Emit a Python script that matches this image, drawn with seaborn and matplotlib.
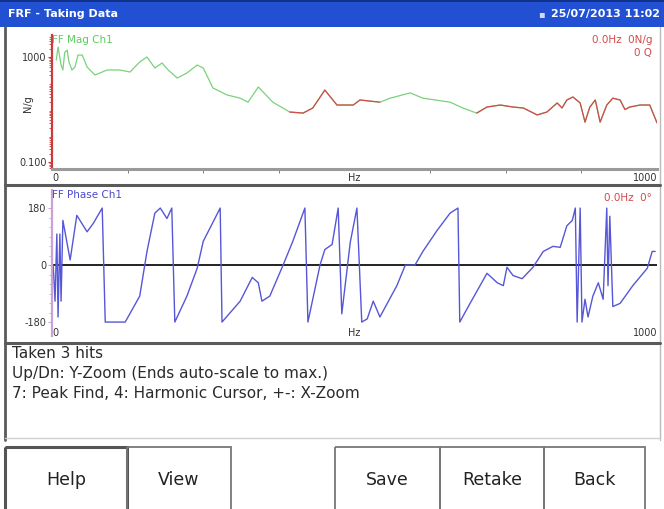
import matplotlib
matplotlib.use("Agg")
import matplotlib.pyplot as plt
from matplotlib.patches import Rectangle
from matplotlib.ticker import FixedLocator, NullFormatter
import pandas as pd
import seaborn as sns

# ---------------- data ----------------
title_left = "FRF - Taking Data"
title_right = "25/07/2013 11:02"
mag_title = "FF Mag Ch1"
phase_title = "FF Phase Ch1"
mag_cursor_1 = "0.0Hz  0N/g"
mag_cursor_2 = "0 Q"
phase_cursor = "0.0Hz  0°"
mag_unit = "N/g"
info_lines = ["Taken 3 hits",
              "Up/Dn: Y-Zoom (Ends auto-scale to max.)",
              "7: Peak Find, 4: Harmonic Cursor, +-: X-Zoom"]
button_labels = ["Help", "View", "", "Save", "Retake", "Back"]

mag_hz = [7, 10, 15, 18, 21, 25, 28, 33, 38, 43, 50, 58, 71, 91, 112, 129, 145, 157,
          170, 182, 192, 207, 223, 240, 250, 266, 289, 311, 324, 341, 365, 393, 415,
          431, 451, 471, 498, 509, 542, 559, 592, 613, 658, 679, 702, 719, 741, 762,
          779, 802, 818, 835, 843, 851, 861, 873, 881, 889, 898, 906, 917, 927, 939,
          947, 955, 972, 988, 1000]
mag_val = [769, 2400, 495, 320, 1500, 1850, 645, 320, 416, 1190, 1190, 416, 206, 320,
           320, 268, 645, 1000, 381, 590, 320, 158, 246, 495, 381, 66, 36, 27, 19, 72,
           19, 8.0, 7.3, 11.4, 55, 14.8, 14.8, 23, 19, 27, 43, 27, 19, 11.4, 7.3, 12.4,
           14.8, 12.4, 11.4, 6.2, 8.0, 17.7, 11.4, 23, 30, 17.7, 3.3, 12.4, 23, 3.3,
           14.8, 27, 23, 10, 12.4, 14.8, 14.8, 3.1]
mag_red_bands = [(393, 542), (702, 1000)]

phase_hz = [2, 5, 8, 10, 13, 15, 18, 30, 41, 58, 68, 83, 88, 121, 145, 157, 170, 179,
            190, 198, 203, 223, 240, 250, 278, 281, 311, 331, 341, 347, 360, 382, 398,
            418, 423, 443, 451, 463, 473, 479, 493, 504, 512, 521, 531, 542, 570, 584,
            600, 613, 636, 658, 671, 674, 691, 719, 736, 746, 752, 762, 777, 795, 812,
            828, 840, 851, 860, 865, 868, 873, 876, 881, 886, 894, 903, 911, 917, 919,
            922, 927, 939, 960, 984, 992, 997]
phase_deg = [0, -114, 98, -164, 98, -114, 141, 16, 157, 105, 131, 180, -180, -180, -98,
             43, 164, 180, 147, 180, -180, -98, -10, 75, 180, -180, -114, -39, -56, -114,
             -98, 0, 75, 180, -180, 0, 49, 65, 180, -154, 72, 180, -180, -170, -114,
             -164, -65, 0, 0, 43, 108, 164, 180, -180, -121, -26, -56, -65, -7, -33, -43,
             -7, 43, 59, 56, 124, 141, 180, -180, 180, -180, -108, -164, -98, -56, -108,
             180, -65, 154, -131, -121, -65, -10, 43, 43]

mag_ticks = [0.1, 1000]
mag_tick_labels = ["0.100", "1000"]
phase_ticks = [-180, 0, 180]
phase_tick_labels = ["-180", "0", "180"]
x_ticks = [0, 500, 1000]
x_tick_labels = ["0", "Hz", "1000"]
x_minor = [125, 250, 375, 625, 750, 875]

# ---------------- figure ----------------
sns.set_style("white")
plt.rcParams["font.family"] = ["DejaVu Sans"]

W, H = 664, 509
fig = plt.figure(figsize=(W / 100, H / 100), dpi=100)
fig.patch.set_facecolor("white")

bg = fig.add_axes([0, 0, 1, 1], zorder=0)
bg.set_xlim(0, W)
bg.set_ylim(H, 0)
bg.axis("off")

# title bar
bg.add_patch(Rectangle((0, 0), W, 27, color="#2150d2", lw=0))
bg.add_patch(Rectangle((0, 0), W, 2, color="#10308a", lw=0))
bg.text(8, 14, title_left, color="white", fontsize=8, fontweight="bold", va="center")
bg.text(660, 14, title_right, color="white", fontsize=8, fontweight="bold",
        va="center", ha="right")
bg.text(538, 14, "▪", color="#d8d8ff", fontsize=7, va="center", ha="left")

# screen frame and separators
frame_c = "#5a5a5a"
bg.plot([5, 5], [27, 440], color=frame_c, lw=2)
bg.plot([660, 660], [27, 440], color="#bbbbbb", lw=1)
bg.plot([5, 660], [185, 185], color=frame_c, lw=2.2)
bg.plot([5, 660], [343, 343], color=frame_c, lw=2.2)
bg.plot([5, 660], [438, 438], color="#d0d0d0", lw=1)

# info text
for i, line in enumerate(info_lines):
    bg.text(12, 354 + i * 19.5, line, fontsize=11, color="#2a2a2a", va="center")

# magnitude unit label
bg.text(28, 104, mag_unit, fontsize=7, color="#333333", rotation=90,
        ha="center", va="center")

# buttons
btn_edges = [5, 127, 231, 335, 440, 544, 645]
for i, lab in enumerate(button_labels):
    x0, x1 = btn_edges[i], btn_edges[i + 1]
    if lab:
        lw = 2.2 if lab == "Help" else 1.3
        ec = "#555555" if lab == "Help" else "#777777"
        bg.add_patch(Rectangle((x0, 447), x1 - x0, 70, fill=False, ec=ec, lw=lw))
        bg.text((x0 + x1) / 2, 480, lab, fontsize=12.5, color="#222222",
                ha="center", va="center")

# ---------------- magnitude axes ----------------
mag_df = pd.DataFrame({"Hz": mag_hz, "mag": mag_val})
ax1 = fig.add_axes([52 / W, 1 - 169 / H, 605 / W, 134 / H], zorder=2)
ax1.set_facecolor("none")
sns.lineplot(data=mag_df, x="Hz", y="mag", ax=ax1, color="#7ad27a", lw=0.9,
             estimator=None)
for lo, hi in mag_red_bands:
    sub = mag_df[(mag_df["Hz"] >= lo) & (mag_df["Hz"] <= hi)]
    sns.lineplot(data=sub, x="Hz", y="mag", ax=ax1, color="#d24a4a", lw=0.9,
                 estimator=None)
ax1.set_yscale("log")
ax1.set_ylim(0.054, 6890)
ax1.set_xlim(0, 1000)
ax1.set_yticks(mag_ticks)
ax1.set_yticklabels(mag_tick_labels)
ax1.yaxis.set_minor_formatter(NullFormatter())
ax1.set_xticks(x_ticks)
ax1.set_xticklabels(x_tick_labels)
ax1.xaxis.set_minor_locator(FixedLocator(x_minor))
for lab in ax1.get_xticklabels():
    if lab.get_text() == "1000":
        lab.set_ha("right")
    elif lab.get_text() == "0":
        lab.set_ha("left")
ax1.set_xlabel("")
ax1.set_ylabel("")
for s in ["top", "right"]:
    ax1.spines[s].set_visible(False)
ax1.spines["left"].set_color("#cc3b3b")
ax1.spines["left"].set_linewidth(1.6)
ax1.spines["bottom"].set_color("#9a9a9a")
ax1.spines["bottom"].set_linewidth(2.2)
ax1.tick_params(axis="y", which="major", length=3, color="#cc3b3b", labelsize=7,
                labelcolor="#333333", pad=1, left=True)
ax1.tick_params(axis="y", which="minor", length=2, color="#cc3b3b", left=True)
ax1.tick_params(axis="x", which="major", length=0, labelsize=7, labelcolor="#333333",
                pad=3)
ax1.tick_params(axis="x", which="minor", length=3, color="#666666", bottom=True)
ax1.text(0.0, 1.0, mag_title, transform=ax1.transAxes, color="#5ccc5c", fontsize=7.5,
         ha="left", va="top")
ax1.text(0.992, 1.0, mag_cursor_1, transform=ax1.transAxes, color="#d24a4a",
         fontsize=7.5, ha="right", va="top")
ax1.text(0.992, 0.90, mag_cursor_2, transform=ax1.transAxes, color="#d24a4a",
         fontsize=7.5, ha="right", va="top")

# ---------------- phase axes ----------------
ph_df = pd.DataFrame({"Hz": phase_hz, "deg": phase_deg})
ax2 = fig.add_axes([52 / W, 1 - 336 / H, 605 / W, 146 / H], zorder=2)
ax2.set_facecolor("none")
ax2.axhline(0, color="#222222", lw=1.4, zorder=1)
sns.lineplot(data=ph_df, x="Hz", y="deg", ax=ax2, color="#5656d8", lw=1.0,
             estimator=None, zorder=2)
ax2.set_xlim(0, 1000)
ax2.set_ylim(-224, 237)
ax2.set_yticks(phase_ticks)
ax2.set_yticklabels(phase_tick_labels)
ax2.set_xticks(x_ticks)
ax2.set_xticklabels(x_tick_labels)
for lab in ax2.get_xticklabels():
    if lab.get_text() == "1000":
        lab.set_ha("right")
    elif lab.get_text() == "0":
        lab.set_ha("left")
ax2.set_xlabel("")
ax2.set_ylabel("")
for s in ["top", "right", "bottom"]:
    ax2.spines[s].set_visible(False)
ax2.spines["left"].set_color("#c9a2d8")
ax2.spines["left"].set_linewidth(1.6)
ax2.yaxis.set_minor_locator(FixedLocator([-150, -120, -90, -60, -30, 30, 60, 90, 120, 150]))
ax2.tick_params(axis="y", which="major", length=3, color="#c9a2d8", labelsize=7,
                labelcolor="#333333", pad=1, left=True)
ax2.tick_params(axis="y", which="minor", length=2, color="#c9a2d8", left=True)
ax2.tick_params(axis="x", which="major", length=0, labelsize=7, labelcolor="#333333",
                pad=-6)
ax2.text(0.0, 1.0, phase_title, transform=ax2.transAxes, color="#4a4ad0", fontsize=7.5,
         ha="left", va="top")
ax2.text(0.992, 0.98, phase_cursor, transform=ax2.transAxes, color="#d24a4a",
         fontsize=7.5, ha="right", va="top")

fig.savefig("out.png", dpi=100, facecolor="white")
